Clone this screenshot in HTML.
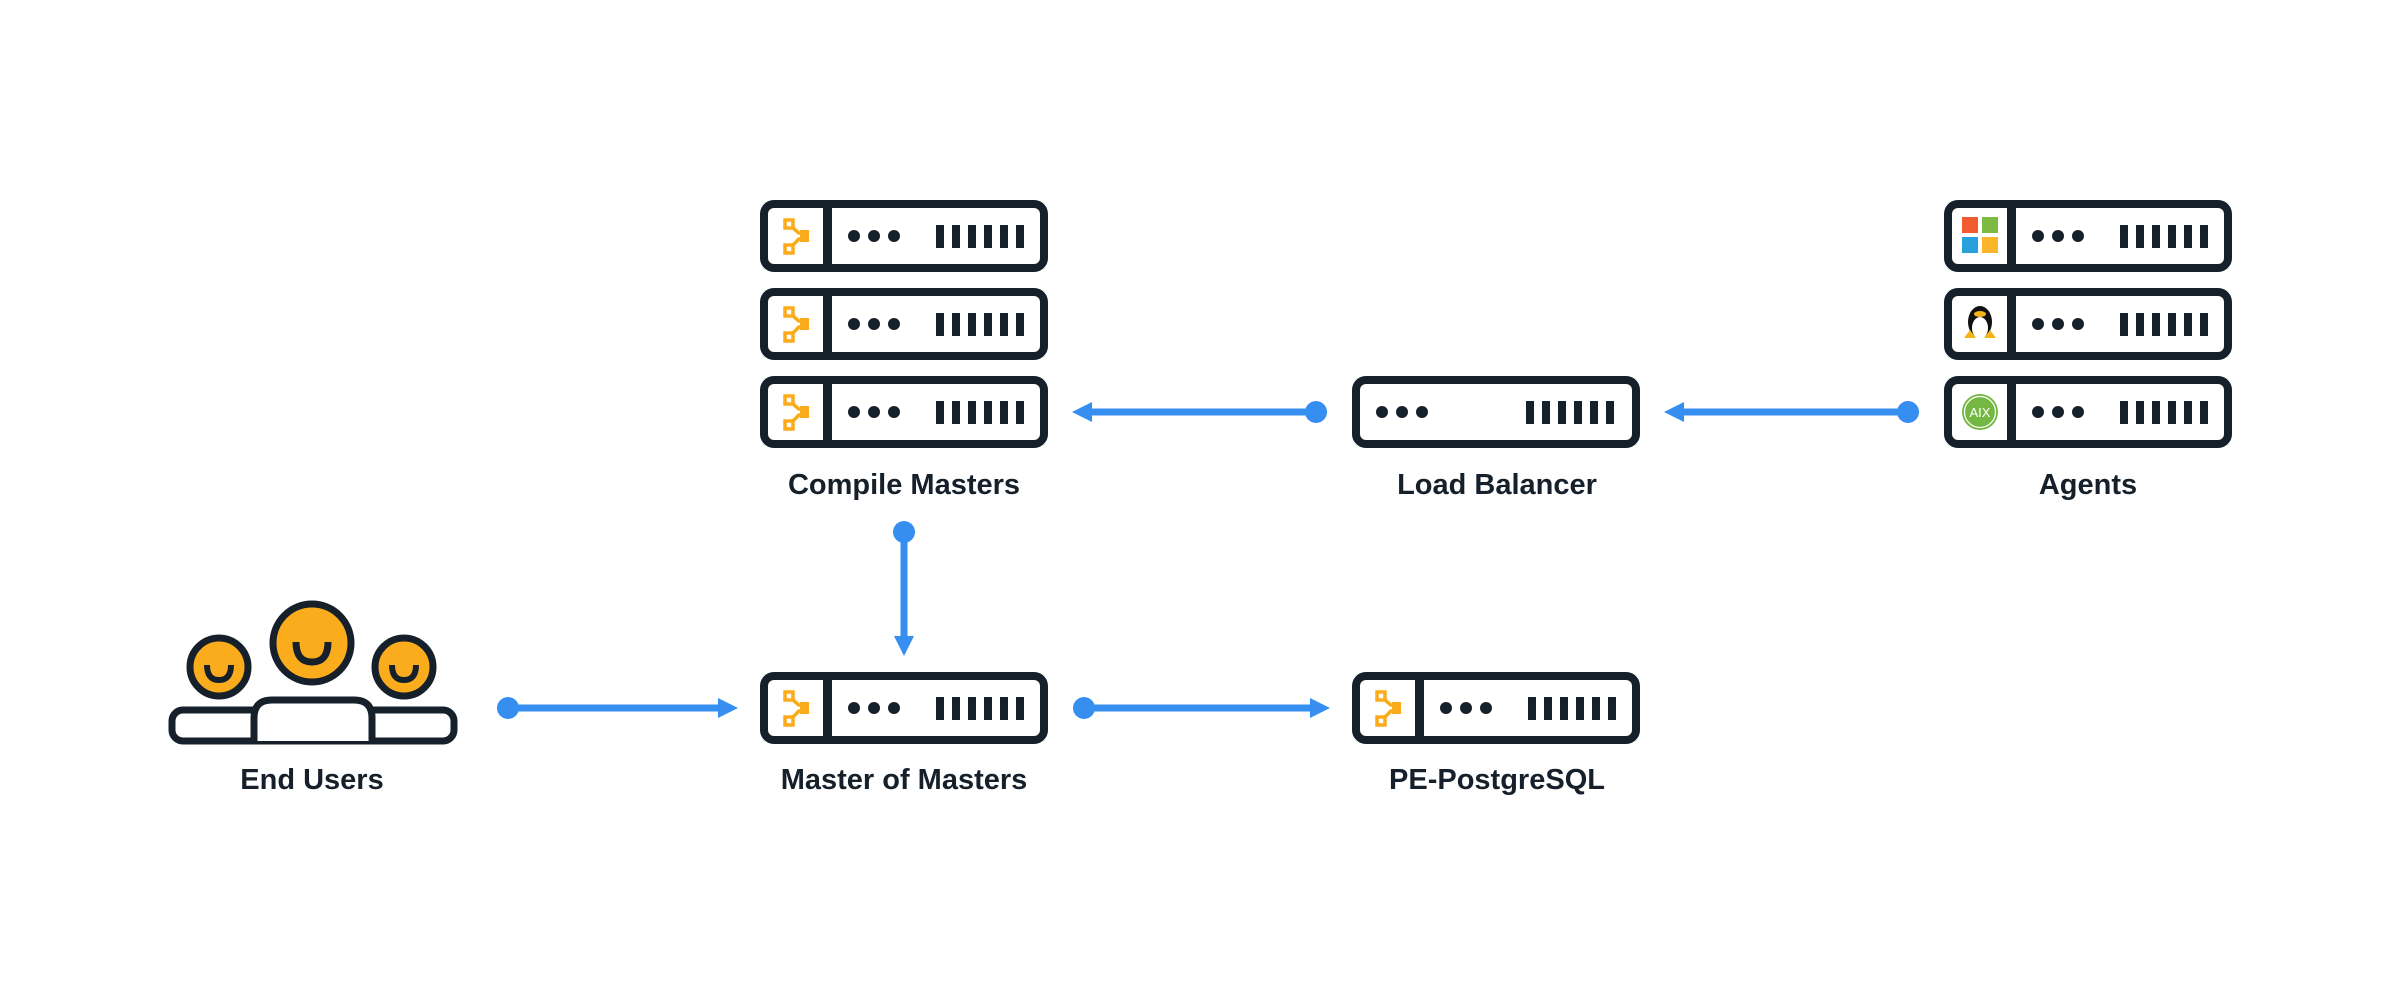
<!DOCTYPE html>
<html><head><meta charset="utf-8"><style>
html,body{margin:0;padding:0;background:#fff;}
svg{display:block;}
text{font-family:"Liberation Sans",sans-serif;font-weight:bold;fill:#15202b;}
</style></head><body>
<svg width="2400" height="1000" viewBox="0 0 2400 1000" xmlns="http://www.w3.org/2000/svg">
<defs>
  <g id="bars" fill="#15202b">
    <rect x="0" y="0" width="8" height="23"/><rect x="16" y="0" width="8" height="23"/><rect x="32" y="0" width="8" height="23"/>
    <rect x="48" y="0" width="8" height="23"/><rect x="64" y="0" width="8" height="23"/><rect x="80" y="0" width="8" height="23"/>
  </g>
  <g id="dots" fill="#15202b">
    <circle cx="0" cy="0" r="6"/><circle cx="20" cy="0" r="6"/><circle cx="40" cy="0" r="6"/>
  </g>
  <g id="srv">
    <rect x="4" y="4" width="280" height="64" rx="10" fill="#fff" stroke="#15202b" stroke-width="8"/>
    <rect x="63" y="4" width="9" height="64" fill="#15202b"/>
    <use href="#dots" x="94" y="36"/>
    <use href="#bars" x="176" y="25"/>
  </g>
  <g id="srvplain">
    <rect x="4" y="4" width="280" height="64" rx="10" fill="#fff" stroke="#15202b" stroke-width="8"/>
    <use href="#dots" x="30" y="36"/>
    <use href="#bars" x="174" y="25"/>
  </g>
  <g id="puppet" fill="none" stroke="#fbac1c">
    <rect x="25" y="20" width="8" height="8" stroke-width="3.5"/>
    <rect x="25" y="45" width="8" height="8" stroke-width="3.5"/>
    <rect x="40" y="30" width="9" height="12" fill="#fbac1c" stroke="none"/>
    <path d="M33 28 L40 34 M33 45 L40 38" stroke-width="3.5"/>
  </g>
</defs>

<use href="#srv" x="760" y="200"/><use href="#puppet" x="760" y="200"/>
<use href="#srv" x="760" y="288"/><use href="#puppet" x="760" y="288"/>
<use href="#srv" x="760" y="376"/><use href="#puppet" x="760" y="376"/>

<use href="#srvplain" x="1352" y="376"/>

<use href="#srv" x="1944" y="200"/>
<use href="#srv" x="1944" y="288"/>
<use href="#srv" x="1944" y="376"/>
<rect x="1962" y="217" width="16" height="16" fill="#f25a30"/>
<rect x="1982" y="217" width="16" height="16" fill="#7dba42"/>
<rect x="1962" y="237" width="16" height="16" fill="#27a0dc"/>
<rect x="1982" y="237" width="16" height="16" fill="#fbb52a"/>
<g transform="translate(1980,324)">
  <ellipse cx="0" cy="-2" rx="12" ry="16" fill="#111"/>
  <ellipse cx="0" cy="4" rx="8" ry="11" fill="#fff"/>
  <ellipse cx="0" cy="-10" rx="6" ry="3" fill="#f4b616"/>
  <path d="M-16 14 L-10 6 L-4 14 Z M16 14 L10 6 L4 14 Z" fill="#f4b616"/>
</g>
<circle cx="1980" cy="412" r="18" fill="#74b843"/>
<circle cx="1980" cy="412" r="15.5" fill="none" stroke="#fff" stroke-width="1.2"/>
<text x="1980" y="417" font-size="13" text-anchor="middle" style="fill:#fff;font-weight:normal">AIX</text>

<use href="#srv" x="760" y="672"/><use href="#puppet" x="760" y="672"/>
<use href="#srv" x="1352" y="672"/><use href="#puppet" x="1352" y="672"/>

<g stroke="#15202b" stroke-width="7">
  <rect x="172" y="710" width="282" height="31" rx="11" fill="#fff"/>
  <path d="M254 741 L254 718 Q254 700 272 700 L354 700 Q372 700 372 718 L372 741" fill="#fff"/>
  <circle cx="219" cy="667" r="29" fill="#fbac1c"/>
  <circle cx="404" cy="667" r="29" fill="#fbac1c"/>
  <circle cx="312" cy="643" r="39" fill="#fbac1c"/>
  <path d="M207 665 Q207 680 219 680 Q231 680 231 665" fill="none" stroke-width="6"/>
  <path d="M392 665 Q392 680 404 680 Q416 680 416 665" fill="none" stroke-width="6"/>
  <path d="M296 642 Q296 662 312 662 Q328 662 328 642" fill="none" stroke-width="7"/>
</g>

<g stroke="#368ef0" stroke-width="7" fill="#368ef0">
  <line x1="1316" y1="412" x2="1088" y2="412"/><circle cx="1316" cy="412" r="11" stroke="none"/>
  <line x1="1908" y1="412" x2="1680" y2="412"/><circle cx="1908" cy="412" r="11" stroke="none"/>
  <line x1="904" y1="532" x2="904" y2="640"/><circle cx="904" cy="532" r="11" stroke="none"/>
  <line x1="508" y1="708" x2="720" y2="708"/><circle cx="508" cy="708" r="11" stroke="none"/>
  <line x1="1084" y1="708" x2="1312" y2="708"/><circle cx="1084" cy="708" r="11" stroke="none"/>
</g>
<g fill="#368ef0">
  <path d="M1072 412 L1092 402 L1092 422 Z"/>
  <path d="M1664 412 L1684 402 L1684 422 Z"/>
  <path d="M904 656 L894 636 L914 636 Z"/>
  <path d="M738 708 L718 698 L718 718 Z"/>
  <path d="M1330 708 L1310 698 L1310 718 Z"/>
</g>

<g font-size="29" text-anchor="middle">
  <text x="904" y="494">Compile Masters</text>
  <text x="1497" y="494">Load Balancer</text>
  <text x="2088" y="494">Agents</text>
  <text x="312" y="789">End Users</text>
  <text x="904" y="789">Master of Masters</text>
  <text x="1497" y="789">PE-PostgreSQL</text>
</g>
</svg>
</body></html>
